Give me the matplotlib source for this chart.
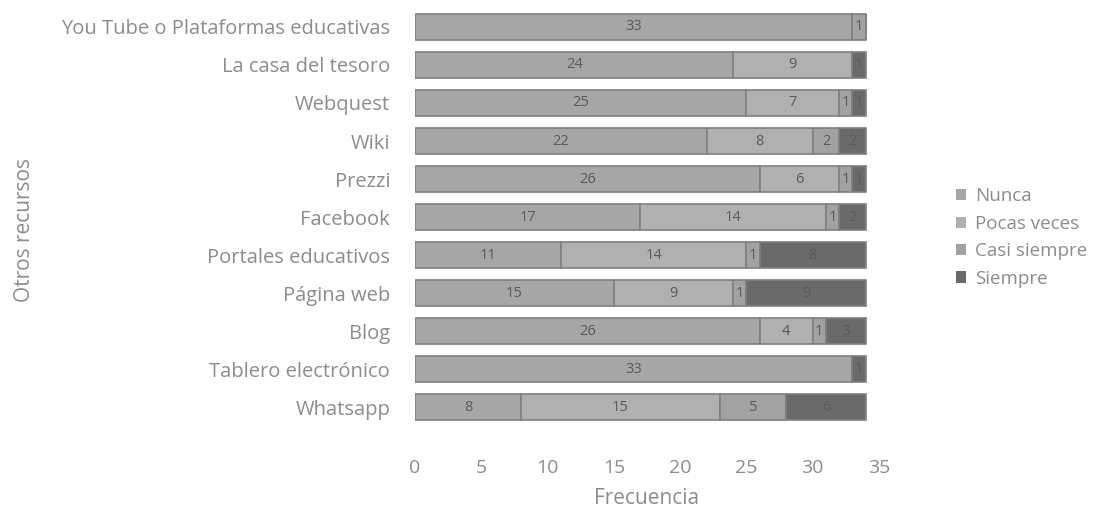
import matplotlib
matplotlib.use("Agg")
import matplotlib.pyplot as plt
import numpy as np

categories = ["Whatsapp", "Tablero electrónico", "Blog", "Página web", "Portales educativos",
              "Facebook", "Prezzi", "Wiki", "Webquest", "La casa del tesoro",
              "You Tube o Plataformas educativas"]
nunca        = [8, 33, 26, 15, 11, 17, 26, 22, 25, 24, 33]
pocas_veces  = [15, 0, 4, 9, 14, 14, 6, 8, 7, 9, 0]
casi_siempre = [5, 0, 1, 1, 1, 1, 1, 2, 1, 0, 1]
siempre      = [6, 1, 3, 9, 8, 2, 1, 2, 1, 1, 0]
series_names = ["Nunca", "Pocas veces", "Casi siempre", "Siempre"]
xticks = [0, 5, 10, 15, 20, 25, 30, 35]

colors = ["#a6a6a6", "#b0b0b0", "#a2a2a2", "#6a6a6a"]
edge = "#808080"
txt = "#8c8c8c"

plt.rcParams['font.family'] = ['Open Sans', 'DejaVu Sans']
fig = plt.figure(figsize=(11.07, 5.18), dpi=100)
ax = fig.add_axes([0.375, 0.170, 0.419, 0.822])

y = np.arange(len(categories))
left = np.zeros(len(categories))
data = [nunca, pocas_veces, casi_siempre, siempre]
for name, vals, c in zip(series_names, data, colors):
    vals = np.array(vals, dtype=float)
    ax.barh(y, vals, left=left, height=0.7, color=c, edgecolor=edge,
            linewidth=1.2, label=name)
    for yi, (l, v) in enumerate(zip(left, vals)):
        if v > 0:
            ax.text(l + v / 2, yi, f"{int(v)}", ha="center", va="center",
                    fontsize=10.5, color="#5a5a5a")
    left += vals

ax.set_xlim(0, 35)
ax.set_ylim(-0.6, len(categories) - 0.4)
ax.set_xticks(xticks)
ax.set_yticks(y)
ax.set_yticklabels(categories)
ax.tick_params(axis="both", length=0, colors=txt, labelsize=14)
ax.tick_params(axis="y", labelsize=14.5, pad=18)
ax.tick_params(axis="x", pad=21)
for s in ax.spines.values():
    s.set_visible(False)
ax.set_xlabel("Frecuencia", color=txt, fontsize=15, labelpad=8)
fig.text(0.022, 0.556, "Otros recursos", rotation=90, color=txt, fontsize=15,
         ha="center", va="center")

leg = ax.legend(loc="center left", bbox_to_anchor=(1.13, 0.452), frameon=False,
                fontsize=13.5, labelcolor=txt, handlelength=0.55, handleheight=0.55,
                handletextpad=0.45, labelspacing=0.5)
for h in leg.legend_handles:
    h.set_edgecolor("none")

fig.savefig("out.png", dpi=100)
